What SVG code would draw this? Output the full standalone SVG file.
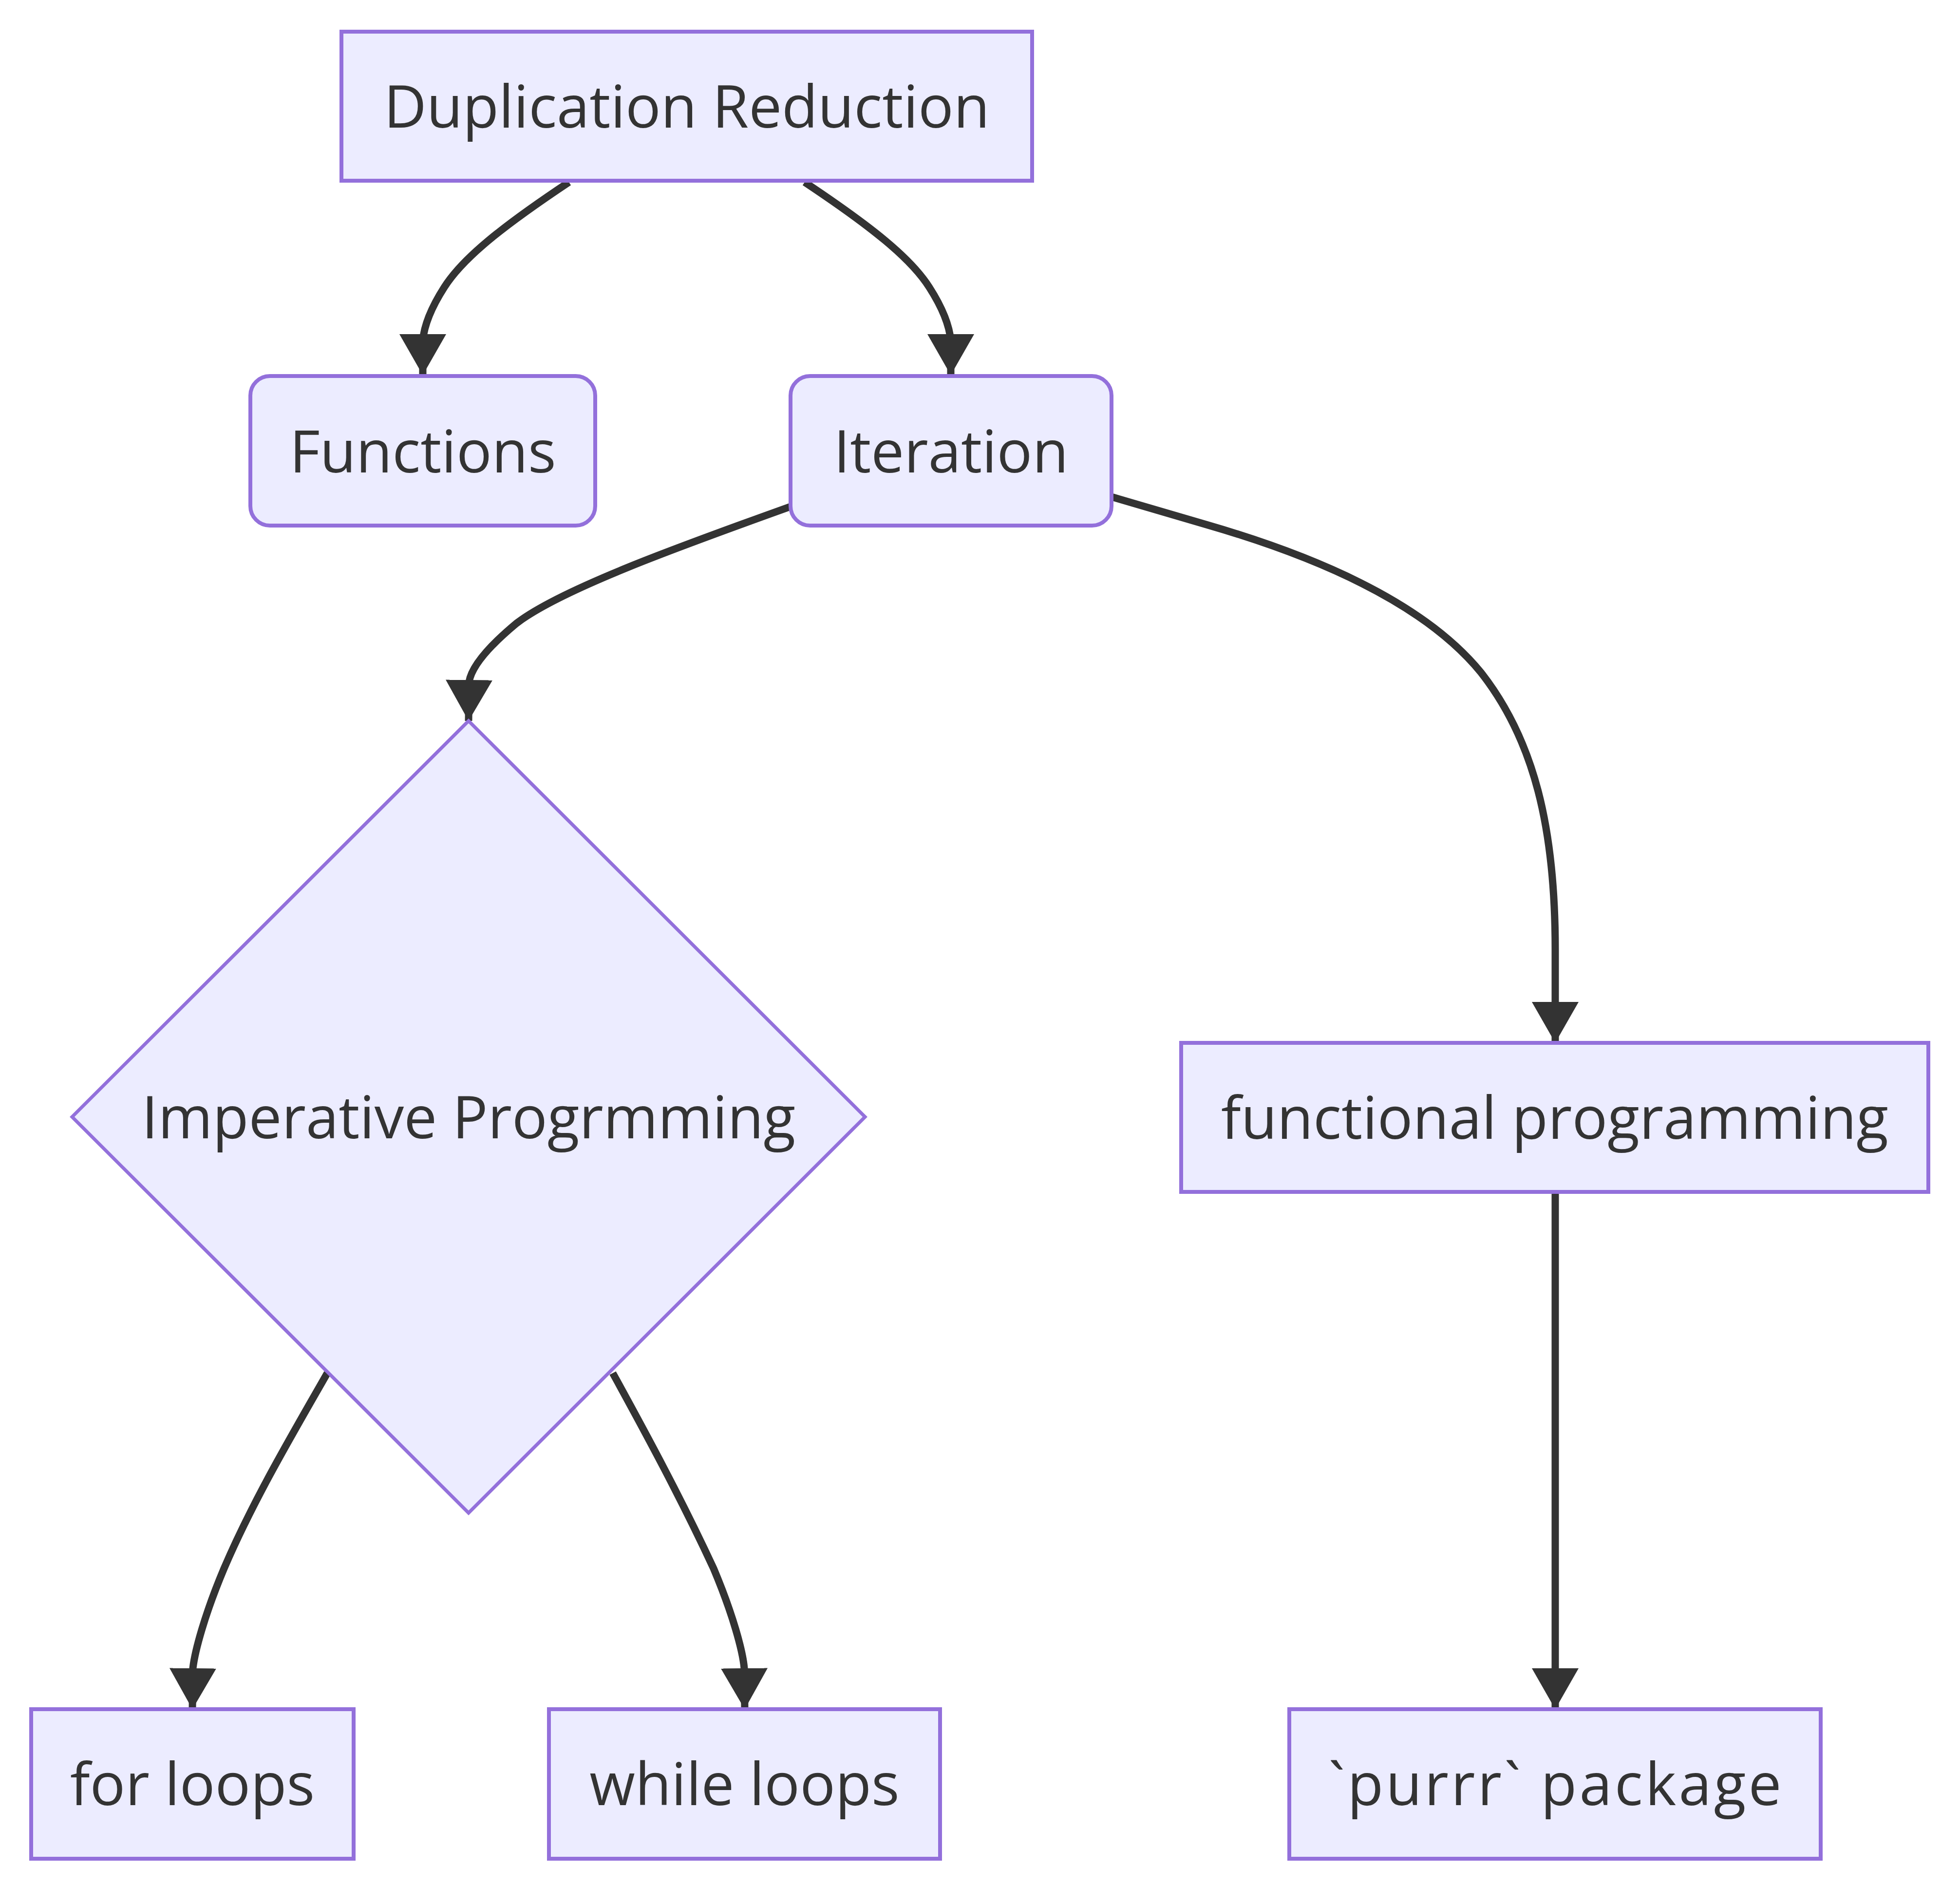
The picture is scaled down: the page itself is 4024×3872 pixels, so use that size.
<svg xmlns="http://www.w3.org/2000/svg" width="4024" height="3872" viewBox="0 0 4024 3872">
  <style>
    .node rect { fill: #ECECFF; stroke: #9370DB; stroke-width: 8; }
    .node polygon { fill: #ECECFF; stroke: #9370DB; stroke-width: 7; }
    .node text { font-family: "Open Sans", "Noto Sans", "DejaVu Sans", sans-serif; font-size: 121px; fill: #333333; text-anchor: middle; }
    .edge { fill: none; stroke: #333333; stroke-width: 15; marker-end: url(#arrow); }
  </style>
  <defs>
    <marker id="arrow" viewBox="0 0 84 96" refX="84" refY="48" markerWidth="84" markerHeight="96" markerUnits="userSpaceOnUse" orient="auto">
      <path d="M0,0 L84,48 L0,96 z" fill="#333333"/>
    </marker>
  </defs>
  <rect width="4024" height="3872" fill="#ffffff"/>

  <g id="connectors">
    <path class="edge" d="M1168,374 C1030,466 950,530 912,590 C880,640 870,675 868,700 L868,770"/>
    <path class="edge" d="M1652,374 C1790,466 1870,530 1908,590 C1940,640 1950,675 1952,700 L1952,770"/>
    <path class="edge" d="M1623,1040 C1400,1120 1150,1210 1060,1280 C1000,1330 968,1370 963,1400 L962,1480"/>
    <path class="edge" d="M2282,1020 L2480,1078 C2780,1165 2950,1270 3040,1380 C3150,1520 3193,1700 3193,1950 L3193,2141"/>
    <path class="edge" d="M672,2819 C600,2945 520,3080 460,3220 C420,3315 400,3390 396,3425 L395,3509"/>
    <path class="edge" d="M1258,2819 C1330,2950 1400,3080 1465,3220 C1505,3315 1525,3390 1528,3425 L1529,3509"/>
    <path class="edge" d="M3193,2447 L3193,3509"/>
  </g>

  <g id="node-duplication" class="node">
    <rect x="701" y="65" width="1418" height="306"/>
    <text x="1410" y="262">Duplication Reduction</text>
  </g>
  <g id="node-functions" class="node">
    <rect x="514" y="772" width="708" height="307" rx="40" ry="40"/>
    <text x="868" y="970">Functions</text>
  </g>
  <g id="node-iteration" class="node">
    <rect x="1623" y="772" width="659" height="307" rx="40" ry="40"/>
    <text x="1952.5" y="970">Iteration</text>
  </g>
  <g id="node-imperative" class="node">
    <polygon points="962,1480 1776,2293 962,3106 148,2293"/>
    <text x="962" y="2337">Imperative Progrmming</text>
  </g>
  <g id="node-functional" class="node">
    <rect x="2425" y="2141" width="1534" height="306"/>
    <text x="3192" y="2338">functional programming</text>
  </g>
  <g id="node-for" class="node">
    <rect x="64" y="3509" width="662" height="307"/>
    <text x="395" y="3706">for loops</text>
  </g>
  <g id="node-while" class="node">
    <rect x="1127" y="3509" width="803" height="307"/>
    <text x="1528.5" y="3706">while loops</text>
  </g>
  <g id="node-purrr" class="node">
    <rect x="2647" y="3509" width="1091" height="307"/>
    <text x="3192.5" y="3706" textLength="930" lengthAdjust="spacing">`purrr` package</text>
  </g>
</svg>
